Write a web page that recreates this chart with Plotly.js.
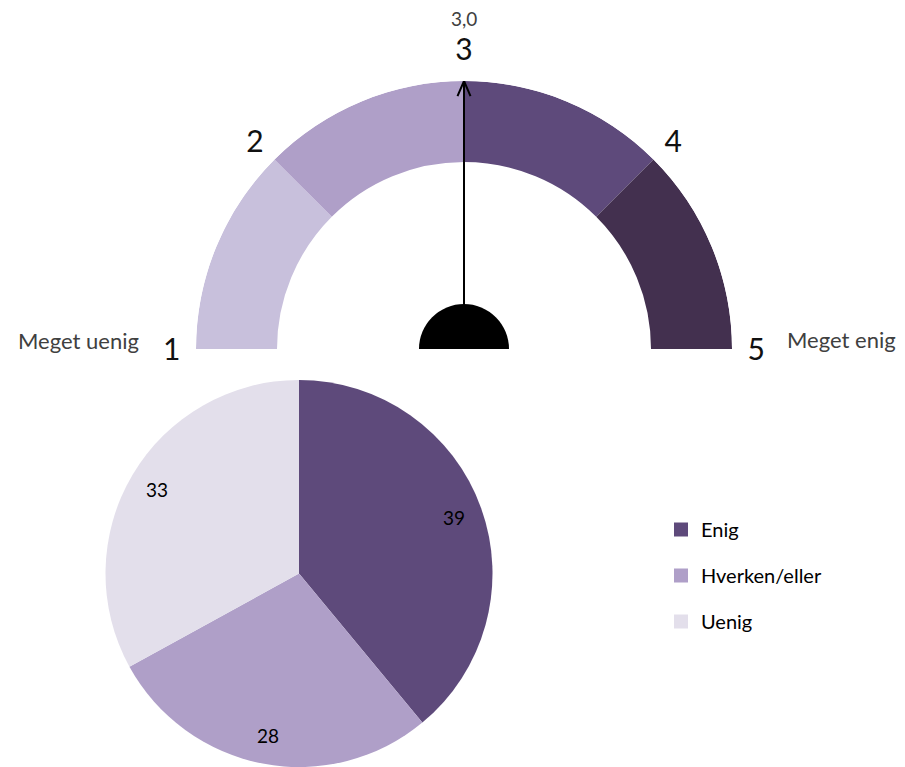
<!DOCTYPE html>
<html>
<head>
<meta charset="utf-8">
<script src="https://cdn.plot.ly/plotly-3.0.1.min.js"></script>
<style>html,body{margin:0;padding:0;background:#fff;}#chart{width:905px;height:767px;}</style>
</head>
<body>
<div id="chart"></div>
<script>
// ---- Gauge data ----
var gaugeTicks = [1, 2, 3, 4, 5];
var gaugeTickLabels = ['1', '2', '3', '4', '5'];
var gaugeBandStart = [1, 2, 3, 4];
var gaugeBandEnd = [2, 3, 4, 5];
var gaugeBandColors = ['#c8c0dc', '#af9fc8', '#5e4a7b', '#43304f'];
var gaugeValue = 3.0;
var gaugeEndLabels = ['Meget uenig', 'Meget enig'];

// ---- Pie data ----
var pieLabels = ['Enig', 'Hverken/eller', 'Uenig'];
var pieValues = [39, 28, 33];
var pieColors = ['#5e4a7b', '#af9fc8', '#e3dfeb'];

var FONT = 'Lato, "Open Sans", sans-serif';
var W = 905, H = 767;

// gauge geometry (pixels)
var gCx = 464, gCy = 349, gR = 268, gRin = 187, hubR = 45;
function valToTheta(v) { return 180 - (v - gaugeTicks[0]) / (gaugeTicks[gaugeTicks.length - 1] - gaugeTicks[0]) * 180; }

var traces = [];
// gauge bands
traces.push({
  type: 'barpolar', subplot: 'polar',
  theta: gaugeBandStart.map(function (s, i) { return (valToTheta(s) + valToTheta(gaugeBandEnd[i])) / 2; }),
  width: gaugeBandStart.map(function (s, i) { return Math.abs(valToTheta(s) - valToTheta(gaugeBandEnd[i])); }),
  base: gaugeBandStart.map(function () { return gRin / gR; }),
  r: gaugeBandStart.map(function () { return 1 - gRin / gR; }),
  marker: { color: gaugeBandColors, line: { width: 0 } },
  hoverinfo: 'skip', showlegend: false
});
// hub
traces.push({
  type: 'barpolar', subplot: 'polar',
  theta: [90], width: [180], base: [0], r: [hubR / gR],
  marker: { color: '#000', line: { width: 0 } },
  hoverinfo: 'skip', showlegend: false
});
// needle
var nTheta = valToTheta(gaugeValue);
traces.push({
  type: 'scatterpolar', subplot: 'polar', mode: 'lines',
  r: [0, 1], theta: [nTheta, nTheta],
  line: { color: '#000', width: 2 }, cliponaxis: false,
  hoverinfo: 'skip', showlegend: false
});
var headLen = 15, headHalf = 6.5;
var rw = 1 - headLen / gR;
var dth = Math.atan(headHalf / (rw * gR)) * 180 / Math.PI;
traces.push({
  type: 'scatterpolar', subplot: 'polar', mode: 'lines',
  r: [rw, 1, rw], theta: [nTheta + dth, nTheta, nTheta - dth],
  line: { color: '#000', width: 2 }, cliponaxis: false,
  hoverinfo: 'skip', showlegend: false
});

// pie
var pCx = 299, pCy = 575, pR = 195;
var pieDomX = [(pCx - pR) / W, (pCx + pR) / W];
var pieDomY = [0, 1 - (pCy - pR) / H];
traces.push({
  type: 'pie', labels: pieLabels, values: pieValues, sort: false,
  direction: 'clockwise', rotation: 0,
  marker: { colors: pieColors, line: { width: 0 } },
  textinfo: 'none', hoverinfo: 'label+value',
  domain: { x: pieDomX, y: pieDomY }, showlegend: false
});
// legend entries
pieLabels.forEach(function (lab, i) {
  traces.push({
    type: 'scatter', x: [null], y: [null], mode: 'markers', name: lab,
    legendgroup: 'g' + i,
    marker: { symbol: 'square', size: 14, color: pieColors[i] },
    xaxis: 'x', yaxis: 'y', hoverinfo: 'skip'
  });
});

// pie labels (computed from values)
var ann = [];
var total = pieValues.reduce(function (a, b) { return a + b; }, 0);
var domWpx = (pieDomX[1] - pieDomX[0]) * W, domHpx = (pieDomY[1] - pieDomY[0]) * H;
var realR = Math.min(domWpx, domHpx) / 2;
var realCx = (pieDomX[0] + pieDomX[1]) / 2 * W;
var realCy = H - (pieDomY[0] + pieDomY[1]) / 2 * H;
var cum = 0;
pieValues.forEach(function (v) {
  var mid = (cum + v / 2) / total * 2 * Math.PI;
  cum += v;
  var rr = realR * 0.85;
  var px = realCx + rr * Math.sin(mid);
  var py = realCy - rr * Math.cos(mid);
  ann.push({ xref: 'paper', yref: 'paper', x: px / W, y: 1 - py / H, text: String(v),
    showarrow: false, font: { family: FONT, size: 19, color: '#000' }, xanchor: 'center', yanchor: 'middle' });
});
// gauge texts
ann.push({ xref: 'paper', yref: 'paper', x: gCx / W, y: 1 - 18 / H, text: gaugeValue.toFixed(1).replace('.', ','),
  showarrow: false, font: { family: FONT, size: 19, color: '#404040' }, xanchor: 'center', yanchor: 'middle' });
ann.push({ xref: 'paper', yref: 'paper', x: 141 / W, y: 1 - 341 / H, text: gaugeEndLabels[0],
  showarrow: false, font: { family: FONT, size: 22, color: '#404040' }, xanchor: 'right', yanchor: 'middle' });
ann.push({ xref: 'paper', yref: 'paper', x: 785 / W, y: 1 - 339 / H, text: gaugeEndLabels[1],
  showarrow: false, font: { family: FONT, size: 22, color: '#404040' }, xanchor: 'left', yanchor: 'middle' });

var layout = {
  width: W, height: H,
  margin: { l: 0, r: 0, t: 0, b: 0 },
  paper_bgcolor: '#fff', plot_bgcolor: 'rgba(0,0,0,0)',
  font: { family: FONT, color: '#000' },
  polar: {
    domain: { x: [(gCx - gR) / W, (gCx + gR) / W], y: [1 - gCy / H, 1 - (gCy - gR) / H] },
    sector: [0, 180],
    bgcolor: 'rgba(0,0,0,0)',
    radialaxis: { range: [0, 1], visible: false, showgrid: false },
    angularaxis: {
      tickmode: 'array',
      tickvals: gaugeTicks.map(valToTheta),
      ticktext: gaugeTickLabels,
      showgrid: false, showline: false,
      ticks: 'outside', ticklen: 9, tickcolor: 'rgba(0,0,0,0)',
      tickfont: { family: FONT, size: 30, color: '#111' },
      direction: 'counterclockwise', rotation: 0
    },
    barmode: 'overlay'
  },
  xaxis: { visible: false, domain: [0.9, 1] },
  yaxis: { visible: false, domain: [0, 0.1] },
  showlegend: true,
  legend: {
    x: 661 / W, y: 1 - 510 / H, xanchor: 'left', yanchor: 'top',
    font: { family: FONT, size: 20, color: '#000' },
    traceorder: 'grouped', tracegroupgap: 17,
    bgcolor: 'rgba(0,0,0,0)'
  },
  annotations: ann
};

Plotly.newPlot('chart', traces, layout, { displayModeBar: false, staticPlot: true });
</script>
</body>
</html>
